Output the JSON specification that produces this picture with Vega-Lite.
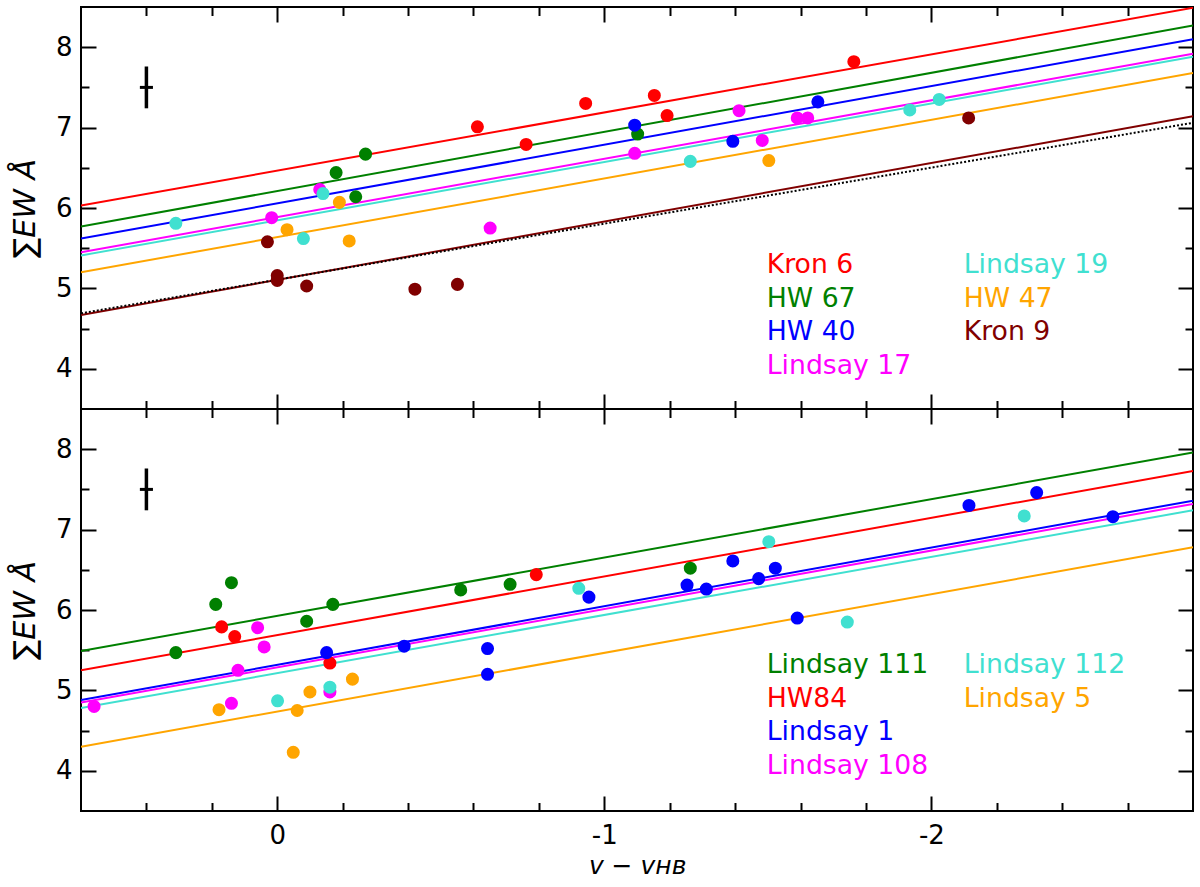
{
  "$schema": "https://vega.github.io/schema/vega-lite/v6.json",
  "padding": {"left": 9, "top": 5, "right": 5, "bottom": 5},
  "spacing": 0,
  "bounds": "flush",
  "config": {
    "font": "DejaVu Sans",
    "view": {"stroke": "#000000", "strokeWidth": 2},
    "axis": {"domain": false, "grid": false, "tickColor": "#000000", "tickWidth": 2, "labelColor": "#000000", "labelFontSize": 26, "labelFont": "DejaVu Sans", "titleColor": "#000000", "titleFontWeight": "normal", "titleFont": "DejaVu Sans", "labelFlush": false, "labelOverlap": false},
    "legend": {"orient": "none", "title": null, "symbolSize": 0, "symbolOpacity": 0, "symbolStrokeWidth": 0, "labelOffset": 0, "labelFontSize": 26.7, "labelFont": "DejaVu Sans", "labelLimit": 0, "rowPadding": 5.5}
  },
  "datasets": {
    "top_pts": [
      {"cl": "Kron 6", "x": -0.612, "y": 7.01}, {"cl": "Kron 6", "x": -0.761, "y": 6.79}, {"cl": "Kron 6", "x": -0.943, "y": 7.30}, {"cl": "Kron 6", "x": -1.153, "y": 7.40}, {"cl": "Kron 6", "x": -1.192, "y": 7.15}, {"cl": "Kron 6", "x": -1.763, "y": 7.82},
      {"cl": "HW 67", "x": -0.18, "y": 6.44}, {"cl": "HW 67", "x": -0.24, "y": 6.14}, {"cl": "HW 67", "x": -0.27, "y": 6.67}, {"cl": "HW 67", "x": -1.102, "y": 6.92},
      {"cl": "HW 40", "x": -1.093, "y": 7.03}, {"cl": "HW 40", "x": -1.393, "y": 6.83}, {"cl": "HW 40", "x": -1.653, "y": 7.32},
      {"cl": "Lindsay 17", "x": 0.017, "y": 5.88}, {"cl": "Lindsay 17", "x": -0.13, "y": 6.23}, {"cl": "Lindsay 17", "x": -0.651, "y": 5.75}, {"cl": "Lindsay 17", "x": -1.093, "y": 6.68}, {"cl": "Lindsay 17", "x": -1.412, "y": 7.21}, {"cl": "Lindsay 17", "x": -1.483, "y": 6.84}, {"cl": "Lindsay 17", "x": -1.59, "y": 7.12}, {"cl": "Lindsay 17", "x": -1.622, "y": 7.12},
      {"cl": "Lindsay 19", "x": 0.31, "y": 5.81}, {"cl": "Lindsay 19", "x": -0.08, "y": 5.62}, {"cl": "Lindsay 19", "x": -0.14, "y": 6.18}, {"cl": "Lindsay 19", "x": -1.263, "y": 6.58}, {"cl": "Lindsay 19", "x": -1.934, "y": 7.22}, {"cl": "Lindsay 19", "x": -2.024, "y": 7.35},
      {"cl": "HW 47", "x": -0.03, "y": 5.73}, {"cl": "HW 47", "x": -0.19, "y": 6.07}, {"cl": "HW 47", "x": -0.22, "y": 5.59}, {"cl": "HW 47", "x": -1.503, "y": 6.59},
      {"cl": "Kron 9", "x": 0.03, "y": 5.58}, {"cl": "Kron 9", "x": 0.0, "y": 5.16}, {"cl": "Kron 9", "x": 0.0, "y": 5.10}, {"cl": "Kron 9", "x": -0.09, "y": 5.03}, {"cl": "Kron 9", "x": -0.421, "y": 4.99}, {"cl": "Kron 9", "x": -0.551, "y": 5.05}, {"cl": "Kron 9", "x": -2.114, "y": 7.12}
    ],
    "top_lines": [
      {"cl": "Kron 6", "x": 0.6, "y": 6.03}, {"cl": "Kron 6", "x": -2.8, "y": 8.49},
      {"cl": "HW 67", "x": 0.6, "y": 5.77}, {"cl": "HW 67", "x": -2.8, "y": 8.27},
      {"cl": "HW 40", "x": 0.6, "y": 5.62}, {"cl": "HW 40", "x": -2.8, "y": 8.10},
      {"cl": "Lindsay 17", "x": 0.6, "y": 5.45}, {"cl": "Lindsay 17", "x": -2.8, "y": 7.92},
      {"cl": "Lindsay 19", "x": 0.6, "y": 5.41}, {"cl": "Lindsay 19", "x": -2.8, "y": 7.88},
      {"cl": "HW 47", "x": 0.6, "y": 5.20}, {"cl": "HW 47", "x": -2.8, "y": 7.68},
      {"cl": "Kron 9", "x": 0.6, "y": 4.67}, {"cl": "Kron 9", "x": -2.8, "y": 7.14}
    ],
    "top_dot": [{"x": 0.6, "y": 4.69}, {"x": -2.8, "y": 7.06}],
    "bot_pts": [
      {"cl": "Lindsay 111", "x": 0.31, "y": 5.47}, {"cl": "Lindsay 111", "x": 0.188, "y": 6.07}, {"cl": "Lindsay 111", "x": 0.14, "y": 6.34}, {"cl": "Lindsay 111", "x": -0.09, "y": 5.86}, {"cl": "Lindsay 111", "x": -0.17, "y": 6.07}, {"cl": "Lindsay 111", "x": -0.561, "y": 6.25}, {"cl": "Lindsay 111", "x": -0.712, "y": 6.32}, {"cl": "Lindsay 111", "x": -1.263, "y": 6.52},
      {"cl": "HW84", "x": 0.17, "y": 5.79}, {"cl": "HW84", "x": 0.13, "y": 5.67}, {"cl": "HW84", "x": -0.161, "y": 5.34}, {"cl": "HW84", "x": -0.792, "y": 6.44},
      {"cl": "Lindsay 1", "x": -0.151, "y": 5.47}, {"cl": "Lindsay 1", "x": -0.388, "y": 5.55}, {"cl": "Lindsay 1", "x": -0.643, "y": 5.52}, {"cl": "Lindsay 1", "x": -0.643, "y": 5.20}, {"cl": "Lindsay 1", "x": -0.953, "y": 6.16}, {"cl": "Lindsay 1", "x": -1.253, "y": 6.31}, {"cl": "Lindsay 1", "x": -1.312, "y": 6.26}, {"cl": "Lindsay 1", "x": -1.393, "y": 6.61}, {"cl": "Lindsay 1", "x": -1.472, "y": 6.39}, {"cl": "Lindsay 1", "x": -1.523, "y": 6.52}, {"cl": "Lindsay 1", "x": -1.59, "y": 5.90}, {"cl": "Lindsay 1", "x": -2.115, "y": 7.30}, {"cl": "Lindsay 1", "x": -2.322, "y": 7.46}, {"cl": "Lindsay 1", "x": -2.555, "y": 7.16},
      {"cl": "Lindsay 108", "x": 0.56, "y": 4.80}, {"cl": "Lindsay 108", "x": 0.06, "y": 5.78}, {"cl": "Lindsay 108", "x": 0.04, "y": 5.54}, {"cl": "Lindsay 108", "x": 0.12, "y": 5.25}, {"cl": "Lindsay 108", "x": 0.14, "y": 4.84}, {"cl": "Lindsay 108", "x": -0.161, "y": 4.98},
      {"cl": "Lindsay 112", "x": -0.001, "y": 4.87}, {"cl": "Lindsay 112", "x": -0.161, "y": 5.04}, {"cl": "Lindsay 112", "x": -0.922, "y": 6.27}, {"cl": "Lindsay 112", "x": -1.503, "y": 6.85}, {"cl": "Lindsay 112", "x": -1.743, "y": 5.85}, {"cl": "Lindsay 112", "x": -2.284, "y": 7.17},
      {"cl": "Lindsay 5", "x": 0.178, "y": 4.76}, {"cl": "Lindsay 5", "x": -0.049, "y": 4.23}, {"cl": "Lindsay 5", "x": -0.061, "y": 4.75}, {"cl": "Lindsay 5", "x": -0.10, "y": 4.98}, {"cl": "Lindsay 5", "x": -0.23, "y": 5.14}
    ],
    "bot_lines": [
      {"cl": "Lindsay 111", "x": 0.6, "y": 5.49}, {"cl": "Lindsay 111", "x": -2.8, "y": 7.96},
      {"cl": "HW84", "x": 0.6, "y": 5.25}, {"cl": "HW84", "x": -2.8, "y": 7.73},
      {"cl": "Lindsay 1", "x": 0.6, "y": 4.88}, {"cl": "Lindsay 1", "x": -2.8, "y": 7.36},
      {"cl": "Lindsay 108", "x": 0.6, "y": 4.85}, {"cl": "Lindsay 108", "x": -2.8, "y": 7.32},
      {"cl": "Lindsay 112", "x": 0.6, "y": 4.78}, {"cl": "Lindsay 112", "x": -2.8, "y": 7.24},
      {"cl": "Lindsay 5", "x": 0.6, "y": 4.30}, {"cl": "Lindsay 5", "x": -2.8, "y": 6.78}
    ],
    "err": [{"x": 0.4, "ylo": 7.24, "yhi": 7.76, "y": 7.5, "xlo": 0.42, "xhi": 0.38}]
  },
  "resolve": {"scale": {"color": "independent", "stroke": "independent"}, "legend": {"color": "independent", "stroke": "independent"}},
  "vconcat": [
    {
      "width": 1112,
      "height": 402,
      "resolve": {"axis": {"x": "independent", "y": "independent"}},
      "layer": [
        {
          "data": {"name": "top_lines"},
          "mark": {"type": "line", "strokeWidth": 2, "clip": true},
          "encoding": {
            "x": {"field": "x", "type": "quantitative", "scale": {"domain": [-2.8, 0.6], "reverse": true, "nice": false, "zero": false}, "axis": {"orient": "bottom", "values": [0.4, 0.2, -0.2, -0.4, -0.6, -0.8, -1.2, -1.4, -1.6, -1.8, -2.2, -2.4, -2.6], "tickSize": -8.5, "labels": false, "title": null}},
            "y": {"field": "y", "type": "quantitative", "scale": {"domain": [3.5, 8.5], "nice": false, "zero": false}, "axis": {"orient": "left", "values": [4.5, 5.5, 6.5, 7.5], "tickSize": -8, "labels": false, "title": null}},
            "stroke": {
              "field": "cl", "type": "nominal",
              "scale": {"domain": ["Lindsay 19", "HW 47", "Kron 9", "Kron 6", "HW 67", "HW 40", "Lindsay 17"], "range": ["#40e0d0", "#ffa500", "#800000", "#ff0000", "#008000", "#0000ff", "#ff00ff"]},
              "legend": {
                "legendX": 856, "legendY": 245, "values": ["Lindsay 19", "HW 47", "Kron 9"],
                "encode": {"labels": {"update": {"fill": {"signal": "datum.value === 'Lindsay 19' ? '#40e0d0' : datum.value === 'HW 47' ? '#ffa500' : '#800000'"}}}}
              }
            },
            "detail": {"field": "cl"}
          }
        },
        {
          "data": {"name": "top_dot"},
          "mark": {"type": "line", "strokeWidth": 2, "color": "#000000", "strokeDash": [2, 2], "clip": true},
          "encoding": {
            "x": {"field": "x", "type": "quantitative", "axis": null},
            "y": {"field": "y", "type": "quantitative", "axis": null}
          }
        },
        {
          "data": {"name": "top_pts"},
          "mark": {"type": "circle", "size": 170, "opacity": 1},
          "encoding": {
            "x": {"field": "x", "type": "quantitative", "axis": {"orient": "bottom", "values": [0, -1, -2], "tickSize": -15, "labels": false, "title": null}},
            "y": {"field": "y", "type": "quantitative", "axis": {"orient": "left", "values": [4, 5, 6, 7, 8], "tickSize": -15, "labelPadding": 24, "title": "∑EW Å", "titleFontSize": 30, "titleFontStyle": "italic", "titlePadding": 15}},
            "color": {
              "field": "cl", "type": "nominal",
              "scale": {"domain": ["Kron 6", "HW 67", "HW 40", "Lindsay 17", "Lindsay 19", "HW 47", "Kron 9"], "range": ["#ff0000", "#008000", "#0000ff", "#ff00ff", "#40e0d0", "#ffa500", "#800000"]},
              "legend": {
                "legendX": 659, "legendY": 245, "values": ["Kron 6", "HW 67", "HW 40", "Lindsay 17"],
                "encode": {"labels": {"update": {"fill": {"signal": "datum.value === 'Kron 6' ? '#ff0000' : datum.value === 'HW 67' ? '#008000' : datum.value === 'HW 40' ? '#0000ff' : '#ff00ff'"}}}}
              }
            }
          }
        },
        {
          "data": {"name": "err"},
          "mark": {"type": "rule", "strokeWidth": 3.5, "color": "#000000"},
          "encoding": {
            "x": {"field": "x", "type": "quantitative", "axis": {"orient": "top", "values": [0, -1, -2], "tickSize": -15, "labels": false, "title": null}},
            "y": {"field": "ylo", "type": "quantitative", "axis": {"orient": "right", "values": [4, 5, 6, 7, 8], "tickSize": -15, "labels": false, "title": null}},
            "y2": {"field": "yhi"}
          }
        },
        {
          "data": {"name": "err"},
          "mark": {"type": "rule", "strokeWidth": 3, "color": "#000000"},
          "encoding": {
            "x": {"field": "xlo", "type": "quantitative", "axis": {"orient": "top", "values": [0.4, 0.2, -0.2, -0.4, -0.6, -0.8, -1.2, -1.4, -1.6, -1.8, -2.2, -2.4, -2.6], "tickSize": -8.5, "labels": false, "title": null}},
            "x2": {"field": "xhi"},
            "y": {"field": "y", "type": "quantitative", "axis": {"orient": "right", "values": [4.5, 5.5, 6.5, 7.5], "tickSize": -8, "labels": false, "title": null}}
          }
        }
      ]
    },
    {
      "width": 1112,
      "height": 402,
      "resolve": {"axis": {"x": "independent", "y": "independent"}},
      "layer": [
        {
          "data": {"name": "bot_lines"},
          "mark": {"type": "line", "strokeWidth": 2, "clip": true},
          "encoding": {
            "x": {"field": "x", "type": "quantitative", "scale": {"domain": [-2.8, 0.6], "reverse": true, "nice": false, "zero": false}, "axis": {"orient": "bottom", "values": [0.4, 0.2, -0.2, -0.4, -0.6, -0.8, -1.2, -1.4, -1.6, -1.8, -2.2, -2.4, -2.6], "tickSize": -8.5, "labels": false, "title": null}},
            "y": {"field": "y", "type": "quantitative", "scale": {"domain": [3.5, 8.5], "nice": false, "zero": false}, "axis": {"orient": "left", "values": [4.5, 5.5, 6.5, 7.5], "tickSize": -8, "labels": false, "title": null}},
            "stroke": {
              "field": "cl", "type": "nominal",
              "scale": {"domain": ["Lindsay 112", "Lindsay 5", "Lindsay 111", "HW84", "Lindsay 1", "Lindsay 108"], "range": ["#40e0d0", "#ffa500", "#008000", "#ff0000", "#0000ff", "#ff00ff"]},
              "legend": {
                "legendX": 856, "legendY": 243, "values": ["Lindsay 112", "Lindsay 5"],
                "encode": {"labels": {"update": {"fill": {"signal": "datum.value === 'Lindsay 112' ? '#40e0d0' : '#ffa500'"}}}}
              }
            },
            "detail": {"field": "cl"}
          }
        },
        {
          "data": {"name": "bot_pts"},
          "mark": {"type": "circle", "size": 170, "opacity": 1},
          "encoding": {
            "x": {"field": "x", "type": "quantitative", "axis": {"orient": "bottom", "values": [0, -1, -2], "tickSize": -15, "labelPadding": 26, "labelExpr": "datum.value + ''", "title": "v − vʜʙ", "titleFontSize": 25, "titleFontStyle": "italic", "titlePadding": 5}},
            "y": {"field": "y", "type": "quantitative", "axis": {"orient": "left", "values": [4, 5, 6, 7, 8], "tickSize": -15, "labelPadding": 24, "title": "∑EW Å", "titleFontSize": 30, "titleFontStyle": "italic", "titlePadding": 15}},
            "color": {
              "field": "cl", "type": "nominal",
              "scale": {"domain": ["Lindsay 111", "HW84", "Lindsay 1", "Lindsay 108", "Lindsay 112", "Lindsay 5"], "range": ["#008000", "#ff0000", "#0000ff", "#ff00ff", "#40e0d0", "#ffa500"]},
              "legend": {
                "legendX": 659, "legendY": 243, "values": ["Lindsay 111", "HW84", "Lindsay 1", "Lindsay 108"],
                "encode": {"labels": {"update": {"fill": {"signal": "datum.value === 'Lindsay 111' ? '#008000' : datum.value === 'HW84' ? '#ff0000' : datum.value === 'Lindsay 1' ? '#0000ff' : '#ff00ff'"}}}}
              }
            }
          }
        },
        {
          "data": {"name": "err"},
          "mark": {"type": "rule", "strokeWidth": 3.5, "color": "#000000"},
          "encoding": {
            "x": {"field": "x", "type": "quantitative", "axis": {"orient": "top", "values": [0, -1, -2], "tickSize": -15, "labels": false, "title": null}},
            "y": {"field": "ylo", "type": "quantitative", "axis": {"orient": "right", "values": [4, 5, 6, 7, 8], "tickSize": -15, "labels": false, "title": null}},
            "y2": {"field": "yhi"}
          }
        },
        {
          "data": {"name": "err"},
          "mark": {"type": "rule", "strokeWidth": 3, "color": "#000000"},
          "encoding": {
            "x": {"field": "xlo", "type": "quantitative", "axis": {"orient": "top", "values": [0.4, 0.2, -0.2, -0.4, -0.6, -0.8, -1.2, -1.4, -1.6, -1.8, -2.2, -2.4, -2.6], "tickSize": -8.5, "labels": false, "title": null}},
            "x2": {"field": "xhi"},
            "y": {"field": "y", "type": "quantitative", "axis": {"orient": "right", "values": [4.5, 5.5, 6.5, 7.5], "tickSize": -8, "labels": false, "title": null}}
          }
        }
      ]
    }
  ]
}
